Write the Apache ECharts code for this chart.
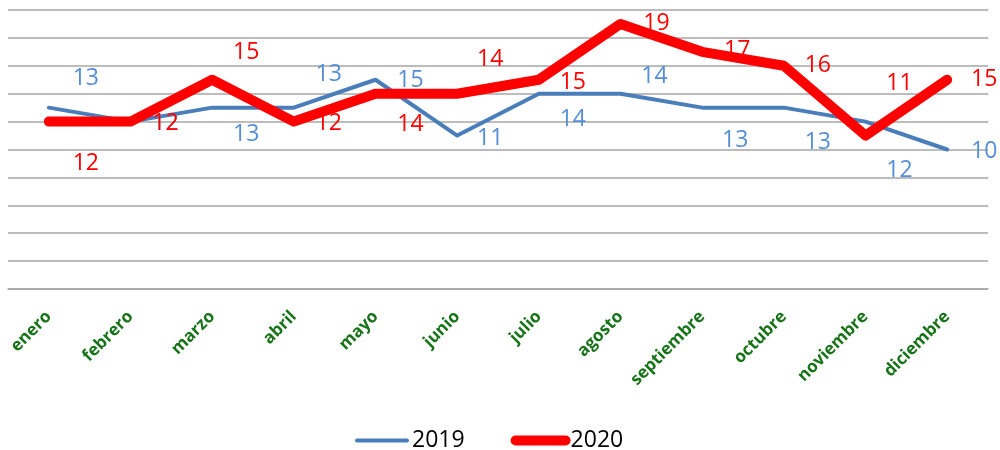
<!DOCTYPE html>
<html>
<head>
<meta charset="utf-8">
<script src="https://cdn.jsdelivr.net/npm/echarts@6/dist/echarts.min.js"></script>
<style>
  html, body { margin: 0; padding: 0; background: #fff; }
  #chart { width: 1000px; height: 450px; }
</style>
</head>
<body>
<div id="chart"></div>
<script>
const months = ["enero", "febrero", "marzo", "abril", "mayo", "junio", "julio",
  "agosto", "septiembre", "octubre", "noviembre", "diciembre"];
const values2019 = [13, 12, 13, 13, 15, 11, 14, 14, 13, 13, 12, 10];
const values2020 = [12, 12, 15, 12, 14, 14, 15, 19, 17, 16, 11, 15];

// desplazamiento de cada etiqueta respecto a su punto (px)
const offsets2019 = [[37, -29], [35, 2], [34, 27], [35, -33], [35, 1], [33, 3],
  [34, 26], [34, -17], [33, 33], [34, 35], [34, 49], [37, 2]];
const offsets2020 = [[37, 42], [35, 2], [34, -27], [35, 2], [35, 31], [33, -34],
  [34, 3], [36, 0], [35, -1], [34, 0], [34, -52], [37, 0]];

const chart = echarts.init(document.getElementById("chart"));

function withLabels(values, offsets) {
  return values.map((v, i) => ({
    value: v,
    label: { offset: offsets[i] },
  }));
}

chart.setOption({
  animation: false,
  grid: { left: 8, right: 12, top: 10, bottom: 161 },
  legend: {
    top: 424,
    left: 350,
    itemWidth: 50,
    itemHeight: 12,
    itemGap: 46,
    itemStyle: { opacity: 0 },
    textStyle: { color: "#000", fontSize: 23, fontFamily: "Open Sans", padding: [0, 0, 0, 0] },
    data: [
      { name: "2019", lineStyle: { width: 4, cap: "round" } },
      { name: "2020", lineStyle: { width: 10, cap: "round" } },
    ],
  },
  xAxis: {
    type: "category",
    data: months,
    boundaryGap: true,
    axisLine: { lineStyle: { color: "#a6a6a6", width: 1.5 } },
    axisTick: { length: 6, lineStyle: { color: "#a6a6a6", width: 1.5 } },
    axisLabel: {
      interval: 0,
      rotate: 45,
      margin: 25,
      color: "#177317",
      fontWeight: "bold",
      fontSize: 17,
      fontFamily: "Open Sans",
    },
  },
  yAxis: {
    type: "value",
    min: 0,
    max: 20,
    interval: 2,
    axisLabel: { show: false },
    axisLine: { show: false },
    axisTick: { show: false },
    splitLine: { lineStyle: { color: "#a6a6a6", width: 1.5 } },
  },
  series: [
    {
      name: "2019",
      type: "line",
      data: withLabels(values2019, offsets2019),
      symbol: "circle",
      symbolSize: 2,
      itemStyle: { color: "#4a7ebb" },
      lineStyle: { color: "#4a7ebb", width: 4, join: "round", cap: "round" },
      label: {
        show: true,
        position: "inside",
        color: "#558ed5",
        fontSize: 23,
        fontFamily: "Open Sans",
      },
      z: 2,
    },
    {
      name: "2020",
      type: "line",
      data: withLabels(values2020, offsets2020),
      symbol: "circle",
      symbolSize: 2,
      itemStyle: { color: "#ff0000" },
      lineStyle: { color: "#ff0000", width: 10, join: "round", cap: "round" },
      label: {
        show: true,
        position: "inside",
        color: "#ff0000",
        fontSize: 23,
        fontFamily: "Open Sans",
      },
      z: 3,
    },
  ],
});
</script>
</body>
</html>
